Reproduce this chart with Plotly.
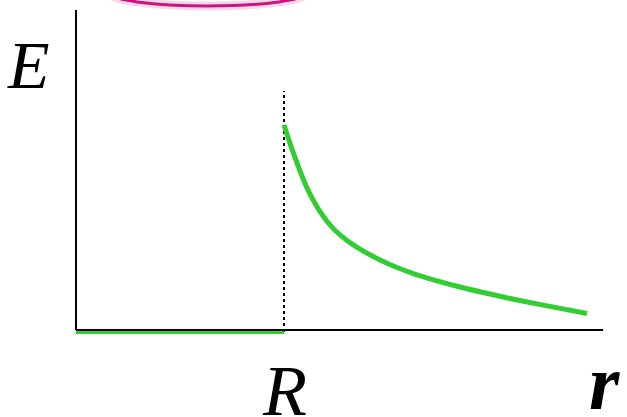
import plotly.graph_objects as go

# Data (R = 1 unit, E normalised to E(R) = 1)
R = 1.0
r_inside = [0.0, 1.0]
E_inside = [0.0, 0.0]
r_outside = [1.000, 1.038, 1.077, 1.115, 1.173, 1.236, 1.303, 1.380, 1.462, 1.543,
             1.639, 1.740, 1.832, 1.957, 2.087, 2.216, 2.341, 2.457]
E_outside = [0.995, 0.880, 0.774, 0.683, 0.579, 0.498, 0.440, 0.390, 0.346, 0.310,
             0.275, 0.245, 0.220, 0.190, 0.161, 0.135, 0.111, 0.089]
marker_top = 1.159
x_label = "r"
y_label = "E"
r_label = "R"

green = "#32CD32"
serif = "Liberation Serif, Times New Roman, serif"
fig = go.Figure()
fig.add_trace(go.Scatter(x=[R, R], y=[0.0, marker_top], mode="lines",
                         line=dict(color="black", width=2, dash="dot"), hoverinfo="skip"))
fig.add_trace(go.Scatter(x=r_inside, y=E_inside, mode="lines",
                         line=dict(color=green, width=4), hoverinfo="skip"))
fig.add_trace(go.Scatter(x=r_outside, y=E_outside, mode="lines", line_shape="spline",
                         line=dict(color=green, width=5, smoothing=0.8), hoverinfo="skip"))

fig.update_layout(
    width=627, height=417,
    margin=dict(l=66, r=11, t=5, b=77, autoexpand=False),
    paper_bgcolor="white", plot_bgcolor="white",
    showlegend=False,
    xaxis=dict(range=[-0.0481, 2.596], visible=False, showgrid=False, zeroline=False),
    yaxis=dict(range=[-0.0385, 1.572], visible=False, showgrid=False, zeroline=False),
    shapes=[
        dict(type="line", xref="x", yref="y", x0=0, x1=0, y0=0.0096, y1=1.548,
             line=dict(color="black", width=2), layer="above"),
        dict(type="line", xref="x", yref="y", x0=0, x1=2.534, y0=0.0096, y1=0.0096,
             line=dict(color="black", width=2), layer="above"),
        dict(type="circle", xref="paper", yref="paper", x0=0.0764, x1=0.44, y0=0.997, y1=1.0806,
             line=dict(color="rgba(235,140,195,0.35)", width=9)),
        dict(type="circle", xref="paper", yref="paper", x0=0.0764, x1=0.44, y0=0.997, y1=1.0806,
             line=dict(color="#C8157F", width=3)),
    ],
    annotations=[
        dict(text=y_label, xref="paper", yref="paper", x=-0.0673, y=0.939,
             showarrow=False, xanchor="center", yanchor="top",
             font=dict(family=serif, size=68, color="black", style="italic")),
        dict(text=r_label, xref="x", yref="paper", x=R, y=-0.027,
             showarrow=False, xanchor="center", yanchor="top",
             font=dict(family=serif, size=72, color="black", style="italic")),
        dict(text=x_label, xref="paper", yref="paper", x=0.9473, y=0.0075,
             showarrow=False, xanchor="left", yanchor="top",
             font=dict(family=serif, size=78, color="black", style="italic", weight="bold")),
    ],
)
fig.write_html("out.html", config={"displayModeBar": False},
               post_script="document.body.style.margin='0';")
